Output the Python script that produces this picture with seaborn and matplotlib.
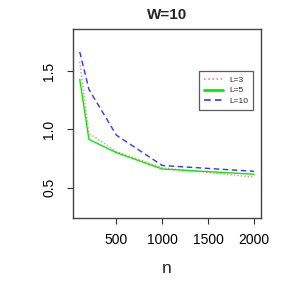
import pandas as pd
import numpy as np
import matplotlib
matplotlib.use("Agg")
import matplotlib.pyplot as plt
import seaborn as sns

n = [100, 200, 500, 1000, 2000]
L3 = [1.58, 0.966, 0.81, 0.67, 0.59]
L5 = [1.43, 0.914, 0.80, 0.66, 0.615]
L10 = [1.665, 1.343, 0.95, 0.69, 0.64]
labels = ["L=3", "L=5", "L=10"]

df = pd.DataFrame({
    "n": n * 3,
    "value": L3 + L5 + L10,
    "L": [labels[0]] * 5 + [labels[1]] * 5 + [labels[2]] * 5,
})

sns.set_style("white")
plt.rcParams["font.family"] = ["Liberation Sans", "DejaVu Sans"]

fig = plt.figure(figsize=(2.91, 2.91), dpi=100)
ax = fig.add_axes([0.25, 0.251, 0.647, 0.649])

palette = {"L=3": "#ff8080", "L=5": "#00ee00", "L=10": "#3333ff"}
dashes = {"L=3": (1, 1.5), "L=5": "", "L=10": (4, 2.5)}
sns.lineplot(data=df, x="n", y="value", hue="L", style="L", palette=palette,
             dashes=dashes, linewidth=1, ax=ax, legend=True)

ax.set_xlim(24, 2076)
ax.set_ylim(0.24, 1.86)
ax.set_xticks([500, 1000, 1500, 2000])
ax.set_yticks([0.5, 1.0, 1.5])
ax.set_yticklabels(["0.5", "1.0", "1.5"], rotation=90, va="center")
ax.tick_params(axis="both", labelsize=10, length=4, width=0.8, direction="out",
               bottom=True, left=True, colors="#333333", labelcolor="black")
ax.tick_params(axis="x", pad=7)
ax.tick_params(axis="y", pad=8)
for s in ax.spines.values():
    s.set_color("#444444")
    s.set_linewidth(1)

ax.set_xlabel("n", fontsize=12.5, labelpad=10)
ax.set_ylabel("")
ax.set_title("W=10", fontsize=11, fontweight="bold", pad=7)

leg = ax.legend(loc="upper left", bbox_to_anchor=(0.672, 0.779), fontsize=6,
                frameon=True, fancybox=False, edgecolor="#333333",
                handlelength=2.2, handletextpad=0.8, borderpad=0.6,
                labelspacing=0.35, borderaxespad=0)
leg.get_frame().set_linewidth(0.9)
for line in leg.get_lines():
    line.set_linewidth(1.2)
leg.get_lines()[1].set_linewidth(2)

fig.savefig("out.png", dpi=100)
